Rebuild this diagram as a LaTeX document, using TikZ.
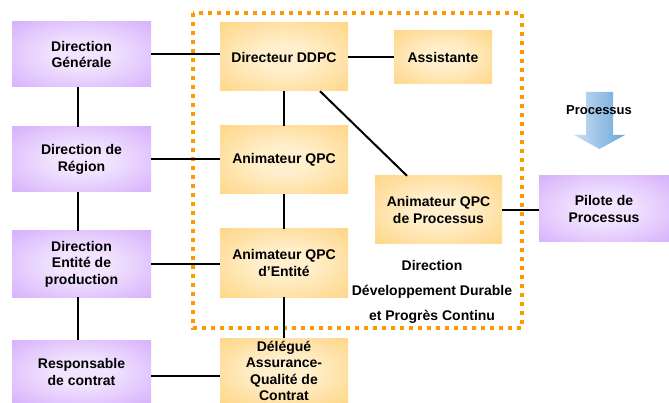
\documentclass[tikz,border=0pt]{standalone}
\usepackage{fontspec}
\setmainfont{Liberation Sans}
\usepackage{xcolor}
\usepackage{tikz}
\usetikzlibrary{shapes,arrows,positioning}

\definecolor{dirpurple}{RGB}{202,152,250}
\definecolor{dirpurplelight}{RGB}{241,228,254}
\definecolor{qpcorange}{RGB}{255,202,102}
\definecolor{qpcorangelight}{RGB}{255,239,204}
\definecolor{frameorange}{RGB}{255,153,0}
\definecolor{procblue}{RGB}{106,166,218}
\definecolor{procbluelight}{RGB}{202,224,243}

\pgfdeclareradialshading{dirglow}{\pgfpoint{0bp}{0bp}}{color(0bp)=(dirpurplelight); color(10bp)=(dirpurplelight); color(48bp)=(dirpurple); color(50bp)=(dirpurple)}
\pgfdeclareradialshading{qpcglow}{\pgfpoint{0bp}{0bp}}{color(0bp)=(qpcorangelight); color(10bp)=(qpcorangelight); color(48bp)=(qpcorange); color(50bp)=(qpcorange)}

\begin{document}
\begin{tikzpicture}[
    x=1pt, y=-1pt,
    dirbox/.style={rectangle, shading=dirglow, minimum width=139pt, align=center, inner sep=0pt, font=\fontsize{14}{16.5}\selectfont\bfseries},
    qpcbox/.style={rectangle, shading=qpcglow, minimum width=128pt, align=center, inner sep=0pt, font=\fontsize{14}{16.5}\selectfont\bfseries},
    wire/.style={line width=2pt, black},
    ddpcframe/.style={frameorange, line width=4pt, dash pattern=on 4pt off 5pt}
]
    \useasboundingbox (0,0) rectangle (669,403);

    \node[dirbox, minimum height=65pt] (dg) at (81.5,54.5) {Direction\\Générale};
    \node[dirbox, minimum height=65pt] (dr) at (81.5,159.5) {Direction de\\Région};
    \node[dirbox, minimum height=66pt] (dep) at (81.5,264) {Direction\\Entité de\\production};
    \node[dirbox, minimum height=64pt] (rc) at (81.5,372) {Responsable\\de contrat};
    \node[dirbox, minimum width=130pt, minimum height=66pt] (pilote) at (604,209) {Pilote de\\Processus};

    \node[qpcbox, minimum height=68pt] (ddpc) at (284,57) {Directeur DDPC};
    \node[qpcbox, minimum height=68pt] (aqpc) at (284,160) {Animateur QPC};
    \node[qpcbox, minimum height=68pt] (aqpce) at (284,263) {Animateur QPC\\d’Entité};
    \node[qpcbox, minimum height=66pt] (delegue) at (284,371) {Délégué\\Assurance-\\Qualité de\\Contrat};
    \node[qpcbox, minimum width=98pt, minimum height=53pt] (assist) at (443,57.5) {Assistante};
    \node[qpcbox, minimum width=127pt, minimum height=68pt] (aqpcp) at (438.5,210) {Animateur QPC\\de Processus};

    \node[align=center, inner sep=0pt, font=\fontsize{14}{25.3}\selectfont\bfseries] (ddpclabel) at (432,292) {Direction\\Développement Durable\\et Progrès Continu};

    \shade[left color=procbluelight, right color=procblue] (586,92) -- (613,92) -- (613,135) -- (625,135) -- (599.5,149) -- (574,135) -- (586,135) -- cycle;
    \node[inner sep=0pt, font=\fontsize{13}{15}\selectfont\bfseries] (proclabel) at (599,110) {Processus};

    \draw[ddpcframe] (193,13) rectangle (522,328);

    \draw[wire] (dg.east) -- (dg.east -| ddpc.west);
    \draw[wire] (dr.east) -- (dr.east -| aqpc.west);
    \draw[wire] (dep.east) -- (dep.east -| aqpce.west);
    \draw[wire] ([yshift=-4pt]rc.east) coordinate (rcout) -- (rcout -| delegue.west);
    \draw[wire] ([xshift=-3.5pt]dg.south) -- ([xshift=-3.5pt]dr.north);
    \draw[wire] ([xshift=-3.5pt]dr.south) -- ([xshift=-3.5pt]dep.north);
    \draw[wire] ([xshift=-3.5pt]dep.south) -- ([xshift=-3.5pt]rc.north);
    \draw[wire] (ddpc) -- (aqpc);
    \draw[wire] (aqpc) -- (aqpce);
    \draw[wire] (aqpce) -- (delegue);
    \draw[wire] (ddpc.east) -- (ddpc.east -| assist.west);
    \draw[wire] ([xshift=36pt]ddpc.south) -- ([xshift=-31.5pt]aqpcp.north);
    \draw[wire] (aqpcp.east) -- (aqpcp.east -| pilote.west);
\end{tikzpicture}
\end{document}
